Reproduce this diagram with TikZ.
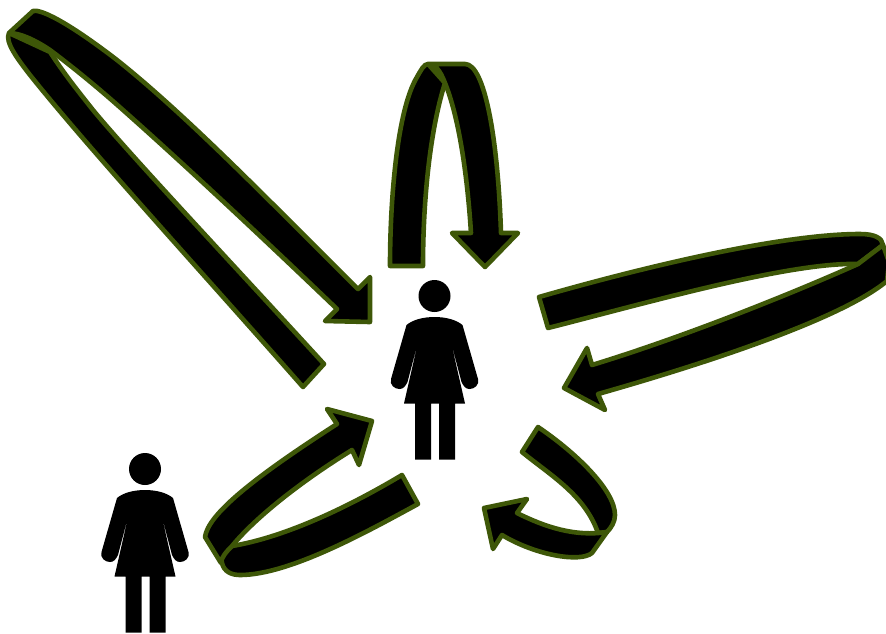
\documentclass[tikz,border=0pt]{standalone}
\definecolor{bandedge}{RGB}{62,87,8}
\tikzset{
  band/.style={fill=black,draw=bandedge,line width=4.6pt,line join=round},
  pics/person/.style={code={
    \fill (0,0) circle (16);
    \fill (0,21) .. controls (-12,21) and (-22,24) .. (-28,29)
      -- (-43.5,83) .. controls (-45,89) and (-40,93) .. (-35,93)
      .. controls (-31,93) and (-29,90) .. (-27,86)
      -- (-16,44) -- (-30.5,107.5) -- (-19.5,107.5) -- (-19.5,163.5) -- (-3.5,163.5) -- (-3.5,107.5)
      -- (4.5,107.5) -- (4.5,163.5) -- (20.5,163.5) -- (20.5,107.5) -- (30.5,107.5)
      -- (16,44) -- (27,86) .. controls (29,90) and (31,93) .. (35,93)
      .. controls (40,93) and (45,89) .. (43.5,83)
      -- (28,29) .. controls (22,24) and (12,21) .. (0,21) -- cycle;
  }}
}
\begin{document}
\begin{tikzpicture}[x=1pt,y=-1pt]
\useasboundingbox (0,0) rectangle (886,633);
\clip (0,0) rectangle (886,633);
\pic at (434.5,296) {person};
\pic at (145,469) {person};

% top-left arrow
\draw[band] (324,364) -- (303,387)
  .. controls (200,270) and (90,150) .. (30,75)
  .. controls (20,62) and (4,42) .. (9,33)
  -- (50,52)
  .. controls (65,75) and (78,91) .. (93,110)
  .. controls (130,155) and (240,272) .. (324,364) -- cycle;
\draw[band] (9,33) -- (33,11)
  .. controls (40,9) and (65,20) .. (117,60)
  .. controls (190,118) and (280,212) .. (358,289)
  -- (370,277) -- (370,322) -- (325,321) -- (337,309)
  .. controls (265,240) and (185,165) .. (123,110)
  .. controls (95,85) and (70,65) .. (50,50)
  .. controls (35,40) and (20,33) .. (9,33) -- cycle;

% top arrow
\draw[band] (390,266) -- (423,266)
  .. controls (423,200) and (430,130) .. (445,83)
  -- (428,64)
  .. controls (424,64) and (421,70) .. (417,77)
  .. controls (397,110) and (390,200) .. (390,266) -- cycle;
\draw[band] (428,64) -- (465,64)
  .. controls (485,64) and (498,140) .. (501,233)
  -- (518,233) -- (485,267) -- (452,233) -- (471,233)
  .. controls (467,170) and (458,115) .. (445,83)
  .. controls (440,70) and (435,64) .. (428,64) -- cycle;

% right arrow
\draw[band] (539,297) -- (548,328)
  .. controls (650,302) and (790,262) .. (858,264)
  -- (883,245)
  .. controls (882,238) and (875,234) .. (860,234)
  .. controls (780,234) and (640,268) .. (539,297) -- cycle;
\draw[band] (883,245) -- (889,262) -- (887,281)
  .. controls (840,320) and (700,365) .. (598,394)
  -- (605,410) -- (564,388) -- (587,348) -- (592,365)
  .. controls (690,335) and (800,290) .. (858,264)
  -- (883,245) -- cycle;

% lower-right arrow
\draw[band] (538,427)
  .. controls (575,452) and (615,490) .. (615,515)
  .. controls (615,522) and (611,528) .. (607,532)
  -- (598,533)
  .. controls (585,495) and (550,475) .. (522,452) -- cycle;
\draw[band] (607,532) -- (592,553)
  .. controls (580,563) and (535,555) .. (502,535)
  -- (493,549) -- (484,508) -- (527,499) -- (517,513)
  .. controls (545,527) and (575,537) .. (607,532) -- cycle;

% lower-left arrow
\draw[band] (402,475) -- (418,504)
  .. controls (370,530) and (290,575) .. (240,575)
  .. controls (232,575) and (224,572) .. (222,563)
  .. controls (220,556) and (225,550) .. (232,546)
  .. controls (280,538) and (340,512) .. (402,475) -- cycle;
\draw[band] (221,563) -- (205,537)
  .. controls (208,515) and (250,480) .. (337,424)
  -- (327,409) -- (372,421) -- (359,465) -- (352,450)
  .. controls (300,482) and (255,518) .. (232,546)
  .. controls (226,552) and (221,558) .. (221,563) -- cycle;
\end{tikzpicture}
\end{document}
